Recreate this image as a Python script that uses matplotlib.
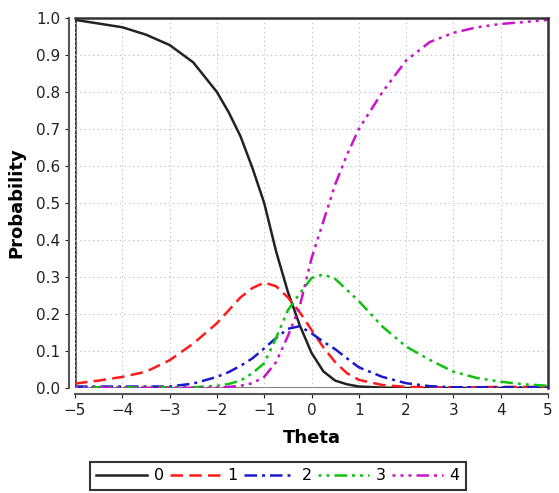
import numpy as np
import matplotlib.pyplot as plt

theta = [-5, -4.5, -4, -3.5, -3, -2.5, -2, -1.75, -1.5, -1.25, -1, -0.75, -0.5, -0.25,
         0, 0.25, 0.5, 0.75, 1, 1.5, 2, 2.5, 3, 3.5, 4, 4.5, 5]

p0 = [0.995, 0.985, 0.975, 0.955, 0.927, 0.88, 0.80, 0.745, 0.68, 0.595, 0.50, 0.37, 0.26, 0.17,
      0.095, 0.045, 0.02, 0.01, 0.004, 0.001, 0.0, 0.0, 0.0, 0.0, 0.0, 0.0, 0.0]
p1 = [0.012, 0.02, 0.03, 0.044, 0.075, 0.12, 0.175, 0.21, 0.245, 0.27, 0.285, 0.275, 0.245, 0.205,
      0.157, 0.11, 0.07, 0.04, 0.022, 0.008, 0.003, 0.002, 0.002, 0.002, 0.003, 0.003, 0.003]
p2 = [0.004, 0.004, 0.004, 0.004, 0.004, 0.012, 0.03, 0.043, 0.06, 0.08, 0.107, 0.135, 0.16, 0.167,
      0.148, 0.125, 0.105, 0.08, 0.056, 0.03, 0.013, 0.005, 0.002, 0.002, 0.002, 0.002, 0.002]
p3 = [0.002, 0.002, 0.002, 0.002, 0.002, 0.002, 0.006, 0.011, 0.02, 0.04, 0.067, 0.135, 0.21, 0.255,
      0.297, 0.307, 0.295, 0.265, 0.235, 0.166, 0.112, 0.076, 0.044, 0.027, 0.017, 0.01, 0.006]
p4 = [0.0005, 0.0005, 0.0005, 0.0005, 0.0005, 0.0005, 0.001, 0.003, 0.006, 0.013, 0.03, 0.07, 0.14, 0.22,
      0.35, 0.45, 0.55, 0.63, 0.70, 0.80, 0.885, 0.935, 0.96, 0.975, 0.984, 0.989, 0.995]

labels = ["0", "1", "2", "3", "4"]
colors = ["#222222", "#ff1a1a", "#1a1acc", "#11c011", "#cc11cc"]
styles = ["-", (0, (5, 2.5)), (0, (5, 2, 1.2, 2)), (0, (1.2, 2, 1.2, 2, 5, 2)),
          (0, (1.2, 2, 1.2, 2, 1.2, 2, 5, 2))]

fig = plt.figure(figsize=(5.59, 4.93), dpi=100)
ax = fig.add_axes([75 / 559, 1 - 388 / 493, 473 / 559, 370 / 493])

for p, lab, c, ls in zip([p0, p1, p2, p3, p4], labels, colors, styles):
    ax.plot(theta, p, color=c, linestyle=ls, linewidth=1.8, label=lab)

ax.set_xlim(-5, 5)
ax.set_ylim(0, 1)
ax.set_xticks(range(-5, 6))
ax.set_yticks(np.arange(0, 1.01, 0.1))
ax.set_yticklabels([f"{v:.1f}" for v in np.arange(0, 1.01, 0.1)])
ax.grid(True, color="#bbbbbb", linestyle=(0, (1, 3)), linewidth=0.8)

# inner frame of the plot area
for s in ["top", "right"]:
    ax.spines[s].set_color("#333333")
    ax.spines[s].set_linewidth(1.8)
ax.axhline(0, color="#555555", linewidth=1.8, zorder=1)
ax.axvline(-5, color="#333333", linewidth=1.8, zorder=1)
for s in ["left", "bottom"]:
    ax.spines[s].set_position(("outward", 4))
    ax.spines[s].set_color("#555555")
    ax.spines[s].set_linewidth(1.5)

ax.tick_params(labelsize=11, colors="#222222", length=3)
ax.set_xlabel("Theta", fontsize=13, fontweight="bold", labelpad=8)
ax.set_ylabel("Probability", fontsize=13, fontweight="bold", labelpad=8)

leg = fig.legend(loc="upper center", bbox_to_anchor=(278 / 559, 1 - 462 / 493), ncol=5,
                 fontsize=11.5, frameon=True, fancybox=False, handlelength=3.2,
                 columnspacing=0.4, handletextpad=0.4, borderaxespad=0, borderpad=0.4)
leg.get_frame().set_edgecolor("black")
leg.get_frame().set_linewidth(1.5)

fig.savefig("out.png", dpi=100)
